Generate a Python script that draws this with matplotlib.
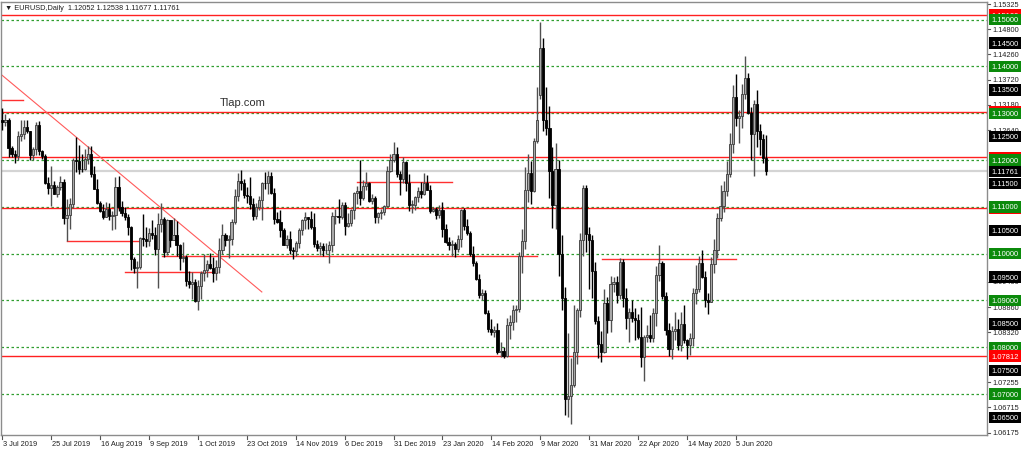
import matplotlib
matplotlib.use('Agg')
import matplotlib.pyplot as plt
from matplotlib.transforms import blended_transform_factory

plt.rcParams['font.family'] = ['Liberation Sans', 'DejaVu Sans']

# daily EURUSD bars, 3 Jul 2019 .. 19 Jun 2020 (one value per trading day)
opens = [
    1.1286, 1.1282, 1.1286, 1.1226, 1.1213, 1.1208, 1.1251, 1.1255, 1.1271, 1.1262, 1.1211,
    1.1224, 1.1275, 1.1219, 1.1209, 1.1152, 1.1140, 1.1146, 1.1128, 1.1142, 1.1153,
    1.1077, 1.1083, 1.1107, 1.1200, 1.1198, 1.1181, 1.1180, 1.1202, 1.1214, 1.1171, 1.1139,
    1.1109, 1.1092, 1.1078, 1.1095, 1.1080, 1.1082, 1.1142, 1.1099, 1.1088, 1.1078, 1.1057,
    1.0988, 1.0970, 1.0972, 1.1034, 1.1031, 1.1027, 1.1044, 1.1041, 1.1010, 1.1064, 1.1075,
    1.1003, 1.1071, 1.1030, 1.1041, 1.1018, 1.0990, 1.0992, 1.0941, 1.0935, 1.0940,
    1.0899, 1.0931, 1.0958, 1.0965, 1.0978, 1.0970, 1.0958, 1.0971, 1.1008, 1.1040, 1.1030,
    1.1031, 1.1068, 1.1123, 1.1156, 1.1150, 1.1125, 1.1124, 1.1106, 1.1080, 1.1100, 1.1114, 1.1152,
    1.1151, 1.1165, 1.1129, 1.1075, 1.1067, 1.1050, 1.1019, 1.1032, 1.1007, 1.1005, 1.1022,
    1.1050, 1.1071, 1.1078, 1.1074, 1.1057, 1.1020, 1.1013, 1.1016, 1.1008, 1.1008,
    1.1018, 1.1080, 1.1081, 1.1078, 1.1103, 1.1060, 1.1065, 1.1093, 1.1129, 1.1133, 1.1120,
    1.1144, 1.1150, 1.1112, 1.1120, 1.1079, 1.1088, 1.1090, 1.1102, 1.1177, 1.1200,
    1.1213, 1.1170, 1.1160, 1.1195, 1.1152, 1.1105, 1.1105, 1.1122, 1.1135, 1.1128, 1.1151,
    1.1137, 1.1091, 1.1095, 1.1082, 1.1094, 1.1052, 1.1024, 1.1018, 1.1020, 1.1009, 1.1032,
    1.1093, 1.1059, 1.1044, 1.1000, 1.0980, 1.0945, 1.0912, 1.0915, 1.0873, 1.0840,
    1.0832, 1.0837, 1.0789, 1.0793, 1.0781, 1.0847, 1.0853, 1.0880, 1.0881, 1.0995,
    1.1027, 1.1137, 1.1172, 1.1135, 1.1241, 1.1340, 1.1440, 1.1285, 1.1268, 1.1177, 1.1105,
    1.1180, 1.1000, 1.0905, 1.0690, 1.0695, 1.0720, 1.0790, 1.0880, 1.1030, 1.1140, 1.1043,
    1.1030, 1.0962, 1.0857, 1.0807, 1.0791, 1.0894, 1.0858, 1.0935, 1.0940, 1.0912, 1.0983,
    1.0906, 1.0862, 1.0876, 1.0862, 1.0858, 1.0823, 1.0779, 1.0821, 1.0826, 1.0820, 1.0873,
    1.0955, 1.0981, 1.0909, 1.0838, 1.0797, 1.0834, 1.0839, 1.0805, 1.0849, 1.0815, 1.0804,
    1.0820, 1.0917, 1.0925, 1.0980, 1.0951, 1.0901, 1.0897, 1.0977, 1.1007, 1.1076,
    1.1102, 1.1134, 1.1170, 1.1235, 1.1335, 1.1289, 1.1294, 1.1342, 1.1375, 1.1300, 1.1256,
    1.1319, 1.1262, 1.1246, 1.12052,
]
highs = [
    1.1311, 1.1298, 1.1290, 1.1230, 1.1221, 1.1262, 1.1286, 1.1285, 1.1285, 1.1263, 1.1229,
    1.1282, 1.1283, 1.1222, 1.1212, 1.1164, 1.1187, 1.1155, 1.1147, 1.1167, 1.1159,
    1.1117, 1.1119, 1.1205, 1.1250, 1.1232, 1.1212, 1.1224, 1.1230, 1.1230, 1.1187, 1.1160,
    1.1112, 1.1106, 1.1110, 1.1108, 1.1092, 1.1164, 1.1165, 1.1113, 1.1099, 1.1084, 1.1060,
    1.0993, 1.0985, 1.1036, 1.1085, 1.1057, 1.1055, 1.1071, 1.1057, 1.1087, 1.1109, 1.1079,
    1.1075, 1.1073, 1.1076, 1.1069, 1.1020, 1.1026, 1.0998, 1.0963, 1.0960, 1.0945,
    1.0943, 1.0964, 1.0999, 1.0986, 1.1001, 1.0992, 1.0987, 1.1034, 1.1063, 1.1045, 1.1040,
    1.1075, 1.1139, 1.1172, 1.1179, 1.1160, 1.1143, 1.1163, 1.1120, 1.1108, 1.1124, 1.1154, 1.1175,
    1.1176, 1.1175, 1.1140, 1.1090, 1.1093, 1.1055, 1.1039, 1.1049, 1.1015, 1.1027, 1.1055,
    1.1075, 1.1089, 1.1079, 1.1091, 1.1088, 1.1030, 1.1024, 1.1022, 1.1023, 1.1028,
    1.1090, 1.1096, 1.1116, 1.1111, 1.1110, 1.1088, 1.1096, 1.1131, 1.1145, 1.1200, 1.1157,
    1.1175, 1.1153, 1.1127, 1.1123, 1.1090, 1.1095, 1.1104, 1.1188, 1.1213, 1.1239,
    1.1229, 1.1177, 1.1206, 1.1197, 1.1171, 1.1115, 1.1124, 1.1143, 1.1153, 1.1172, 1.1169,
    1.1146, 1.1100, 1.1100, 1.1104, 1.1110, 1.1063, 1.1036, 1.1030, 1.1026, 1.1040, 1.1096,
    1.1097, 1.1074, 1.1048, 1.1016, 1.0985, 1.0957, 1.0924, 1.0922, 1.0879, 1.0861,
    1.0845, 1.0851, 1.0811, 1.0801, 1.0863, 1.0869, 1.0891, 1.0891, 1.1004, 1.1053,
    1.1185, 1.1214, 1.1198, 1.1248, 1.1356, 1.1495, 1.1460, 1.1357, 1.1316, 1.1227, 1.1237,
    1.1200, 1.1040, 1.0928, 1.0830, 1.0778, 1.0890, 1.0885, 1.1045, 1.1147, 1.1146, 1.1056,
    1.1041, 1.0982, 1.0867, 1.0834, 1.0925, 1.0907, 1.0952, 1.0951, 1.0953, 1.0990, 1.0988,
    1.0927, 1.0885, 1.0900, 1.0885, 1.0872, 1.0887, 1.0826, 1.0847, 1.0870, 1.0885, 1.0974,
    1.1019, 1.0985, 1.0919, 1.0851, 1.0845, 1.0876, 1.0861, 1.0875, 1.0890, 1.0817, 1.0831,
    1.0926, 1.0976, 1.0995, 1.1008, 1.0962, 1.0915, 1.0992, 1.1032, 1.1088, 1.1147,
    1.1155, 1.1198, 1.1257, 1.1361, 1.1384, 1.1306, 1.1362, 1.1422, 1.1386, 1.1314, 1.1329,
    1.1349, 1.1277, 1.1256, 1.12538,
]
lows = [
    1.1265, 1.1272, 1.1207, 1.1206, 1.1193, 1.1200, 1.1240, 1.1245, 1.1258, 1.1200, 1.1200,
    1.1211, 1.1211, 1.1203, 1.1149, 1.1127, 1.1101, 1.1128, 1.1122, 1.1136, 1.1064,
    1.1027, 1.1053, 1.1097, 1.1175, 1.1170, 1.1174, 1.1179, 1.1192, 1.1164, 1.1138, 1.1107,
    1.1090, 1.1075, 1.1078, 1.1071, 1.1051, 1.1052, 1.1092, 1.1080, 1.1073, 1.1040, 1.0965,
    1.0958, 1.0926, 1.0967, 1.1017, 1.1015, 1.1016, 1.1031, 1.0998, 1.0927, 1.1046, 1.0992,
    1.0997, 1.1015, 1.1029, 1.0996, 1.0966, 1.0982, 1.0932, 1.0926, 1.0903, 1.0897,
    1.0879, 1.0903, 1.0941, 1.0951, 1.0967, 1.0940, 1.0943, 1.0959, 1.1000, 1.1016, 1.0991,
    1.1019, 1.1063, 1.1112, 1.1137, 1.1119, 1.1108, 1.1095, 1.1071, 1.1074, 1.1094, 1.1072, 1.1139,
    1.1128, 1.1128, 1.1064, 1.1066, 1.1036, 1.1019, 1.1012, 1.0999, 1.0989, 1.0996, 1.1012,
    1.1040, 1.1053, 1.1052, 1.1052, 1.1014, 1.1005, 1.0998, 1.0996, 1.1000, 1.0981,
    1.1003, 1.1064, 1.1066, 1.1075, 1.1040, 1.1056, 1.1059, 1.1075, 1.1106, 1.1105, 1.1115,
    1.1136, 1.1110, 1.1106, 1.1065, 1.1066, 1.1075, 1.1083, 1.1102, 1.1175, 1.1196,
    1.1163, 1.1125, 1.1151, 1.1133, 1.1091, 1.1086, 1.1093, 1.1110, 1.1118, 1.1126, 1.1136,
    1.1088, 1.1089, 1.1075, 1.1077, 1.1036, 1.1023, 1.1007, 1.0996, 1.0992, 1.1004, 1.1015,
    1.1050, 1.1039, 1.0996, 1.0974, 1.0944, 1.0905, 1.0902, 1.0871, 1.0832, 1.0827,
    1.0823, 1.0785, 1.0780, 1.0778, 1.0779, 1.0818, 1.0836, 1.0855, 1.0876, 1.0958,
    1.1011, 1.1110, 1.1107, 1.1132, 1.1237, 1.1330, 1.1262, 1.1254, 1.1120, 1.1055, 1.1052,
    1.0952, 1.0880, 1.0655, 1.0650, 1.0636, 1.0716, 1.0765, 1.0865, 1.0995, 1.1003, 1.0925,
    1.0905, 1.0850, 1.0778, 1.0768, 1.0788, 1.0830, 1.0832, 1.0918, 1.0894, 1.0904, 1.0886,
    1.0840, 1.0812, 1.0855, 1.0816, 1.0817, 1.0757, 1.0727, 1.0812, 1.0811, 1.0812, 1.0845,
    1.0941, 1.0904, 1.0826, 1.0782, 1.0775, 1.0816, 1.0795, 1.0793, 1.0810, 1.0775, 1.0784,
    1.0803, 1.0893, 1.0919, 1.0948, 1.0887, 1.0872, 1.0896, 1.0958, 1.0990, 1.1069,
    1.1090, 1.1123, 1.1163, 1.1216, 1.1272, 1.1237, 1.1269, 1.1331, 1.1298, 1.1200, 1.1167,
    1.1228, 1.1210, 1.1193, 1.11677,
]
closes = [
    1.1282, 1.1286, 1.1226, 1.1213, 1.1208, 1.1251, 1.1255, 1.1271, 1.1262, 1.1211, 1.1224,
    1.1275, 1.1219, 1.1209, 1.1152, 1.1140, 1.1146, 1.1128, 1.1142, 1.1153, 1.1077,
    1.1083, 1.1107, 1.1200, 1.1198, 1.1181, 1.1180, 1.1202, 1.1214, 1.1171, 1.1139, 1.1109,
    1.1092, 1.1078, 1.1095, 1.1080, 1.1082, 1.1142, 1.1099, 1.1088, 1.1078, 1.1057, 1.0988,
    1.0970, 1.0972, 1.1034, 1.1031, 1.1027, 1.1044, 1.1041, 1.1010, 1.1064, 1.1075, 1.1003,
    1.1071, 1.1030, 1.1041, 1.1018, 1.0990, 1.0992, 1.0941, 1.0935, 1.0940, 1.0899,
    1.0931, 1.0958, 1.0965, 1.0978, 1.0970, 1.0958, 1.0971, 1.1008, 1.1040, 1.1030, 1.1031,
    1.1068, 1.1123, 1.1156, 1.1150, 1.1125, 1.1124, 1.1106, 1.1080, 1.1100, 1.1114, 1.1152, 1.1151,
    1.1165, 1.1129, 1.1075, 1.1067, 1.1050, 1.1019, 1.1032, 1.1007, 1.1005, 1.1022, 1.1050,
    1.1071, 1.1078, 1.1074, 1.1057, 1.1020, 1.1013, 1.1016, 1.1008, 1.1008, 1.1018,
    1.1080, 1.1081, 1.1078, 1.1103, 1.1060, 1.1065, 1.1093, 1.1129, 1.1133, 1.1120, 1.1144,
    1.1150, 1.1112, 1.1120, 1.1079, 1.1088, 1.1090, 1.1102, 1.1177, 1.1200, 1.1213,
    1.1170, 1.1160, 1.1195, 1.1152, 1.1105, 1.1105, 1.1122, 1.1135, 1.1128, 1.1151, 1.1137,
    1.1091, 1.1095, 1.1082, 1.1094, 1.1052, 1.1024, 1.1018, 1.1020, 1.1009, 1.1032, 1.1093,
    1.1059, 1.1044, 1.1000, 1.0980, 1.0945, 1.0912, 1.0915, 1.0873, 1.0840, 1.0832,
    1.0837, 1.0789, 1.0793, 1.0781, 1.0847, 1.0853, 1.0880, 1.0881, 1.0995, 1.1027,
    1.1137, 1.1172, 1.1135, 1.1241, 1.1286, 1.1440, 1.1285, 1.1268, 1.1177, 1.1105, 1.1180,
    1.1000, 1.0905, 1.0690, 1.0695, 1.0720, 1.0790, 1.0880, 1.1030, 1.1140, 1.1043, 1.1030,
    1.0962, 1.0857, 1.0807, 1.0791, 1.0894, 1.0858, 1.0935, 1.0940, 1.0912, 1.0983, 1.0906,
    1.0862, 1.0876, 1.0862, 1.0858, 1.0823, 1.0779, 1.0821, 1.0826, 1.0820, 1.0873, 1.0955,
    1.0981, 1.0909, 1.0838, 1.0797, 1.0834, 1.0839, 1.0805, 1.0849, 1.0815, 1.0804, 1.0820,
    1.0917, 1.0925, 1.0980, 1.0951, 1.0901, 1.0897, 1.0977, 1.1007, 1.1076, 1.1102,
    1.1134, 1.1170, 1.1235, 1.1335, 1.1289, 1.1294, 1.1342, 1.1375, 1.1300, 1.1256, 1.1319,
    1.1262, 1.1246, 1.1205, 1.11761,
]

date_labels = ['3 Jul 2019', '25 Jul 2019', '16 Aug 2019', '9 Sep 2019', '1 Oct 2019',
               '23 Oct 2019', '14 Nov 2019', '6 Dec 2019', '31 Dec 2019', '23 Jan 2020',
               '14 Feb 2020', '9 Mar 2020', '31 Mar 2020', '22 Apr 2020', '14 May 2020',
               '5 Jun 2020']
bars_per_label = 16

green_levels = [1.15, 1.14, 1.13, 1.12, 1.11, 1.10, 1.09, 1.08, 1.07]
black_levels = [1.145, 1.135, 1.125, 1.115, 1.105, 1.095, 1.085, 1.075, 1.065]
red_levels = [1.15100, 1.13034, 1.12060, 1.10970, 1.07812]
# scale values still readable beside the boxes
scale_ticks = [1.15325, 1.14800, 1.14260, 1.13720, 1.13180, 1.12640, 1.09400,
               1.08860, 1.08320, 1.07255, 1.06715, 1.06175]
last_price = 1.11761

# short drawn lines: (bar from, bar to, price)
red_segments = [(-0.5, 6.8, 1.13284), (21.1, 44.7, 1.10271), (40.1, 70.2, 1.09615),
                (52.2, 174.9, 1.09944), (116.0, 147.1, 1.11538), (196.1, 239.9, 1.09880)]
trend_x = [-0.2, 84.9]
trend_y = [1.13818, 1.09182]

W, H = 1024, 452
fig = plt.figure(figsize=(W / 100, H / 100), dpi=100)
fig.patch.set_facecolor('white')
ax = fig.add_axes([1 / W, 16 / H, 986 / W, 433 / H])
ax.set_xlim(-0.46, 322.2)
ax.set_ylim(1.06126, 1.15378)
for s in ax.spines.values():
    s.set_color('#8c8c8c')
    s.set_linewidth(1)
ax.set_xticks([])
ax.set_yticks([])

for lv in green_levels:
    ax.axhline(lv, color='#2f9e2f', lw=0.9, ls=(0, (2, 2)), zorder=1)
for lv in red_levels:
    ax.axhline(lv, color='#ff2020', lw=1, zorder=2)
ax.axhline(last_price, color='#d4d4d4', lw=1.6, zorder=1)
for x0, x1, p in red_segments:
    ax.plot([x0, x1], [p, p], color='#ff3030', lw=1, zorder=2)
ax.plot(trend_x, trend_y, color='#ff5a5a', lw=0.8, zorder=2)

# candles
idx = list(range(len(closes)))
bull = [c >= o for o, c in zip(opens, closes)]
wick_col = ['#505050' if b else '#000000' for b in bull]
ax.vlines(idx, lows, highs, colors=wick_col, lw=1, zorder=3)
bottoms = [min(o, c) for o, c in zip(opens, closes)]
heights = [max(abs(c - o), 0.00008) for o, c in zip(opens, closes)]
ax.bar(idx, heights, bottom=bottoms, width=0.72,
       color=['#a8a8a8' if b else '#000000' for b in bull],
       edgecolor=['#3a3a3a' if b else '#000000' for b in bull], lw=0.6, zorder=4)

ax.text(71, 1.1325, 'Tlap.com', fontsize=8, color='#303030', va='center', ha='left')

# right price scale
tr = blended_transform_factory(ax.transAxes, ax.transData)
xl = 1 + 4.5 / 986
for p in scale_ticks:
    ax.plot([1, 1 + 3 / 986], [p, p], color='#555555', lw=0.8, transform=tr, clip_on=False)
    ax.text(xl + 1 / 986, p, f'{p:.5f}', transform=tr, fontsize=5.3, color='#202020',
            va='center', ha='left', clip_on=False)


def box_label(p, bg):
    ax.text(xl, p, f'{p:.5f}', transform=tr, fontsize=5.4, color='white', va='center',
            ha='left', clip_on=False,
            bbox=dict(boxstyle='square,pad=0.3', fc=bg, ec='none'))


for p in red_levels:
    box_label(p, '#ff0000')
for p in black_levels:
    box_label(p, '#000000')
box_label(last_price, '#000000')
for p in green_levels:
    box_label(p, '#0b8a0b')
box_label(1.07812, '#ff0000')

# bottom date scale
trx = blended_transform_factory(ax.transData, ax.transAxes)
for k, lab in enumerate(date_labels):
    xp = k * bars_per_label
    ax.plot([xp, xp], [0, -4 / 433], color='#555555', lw=0.8, transform=trx, clip_on=False)
    ax.text(xp + 0.2, -9 / 433, lab, transform=trx, fontsize=5.3, color='#202020',
            va='center', ha='left', clip_on=False)

fig.text(5 / W, 1 - 8 / H, '\u25bc EURUSD,Daily  1.12052 1.12538 1.11677 1.11761',
         fontsize=5.3, color='#202020', va='center', ha='left')

fig.savefig('out.png', dpi=100)
